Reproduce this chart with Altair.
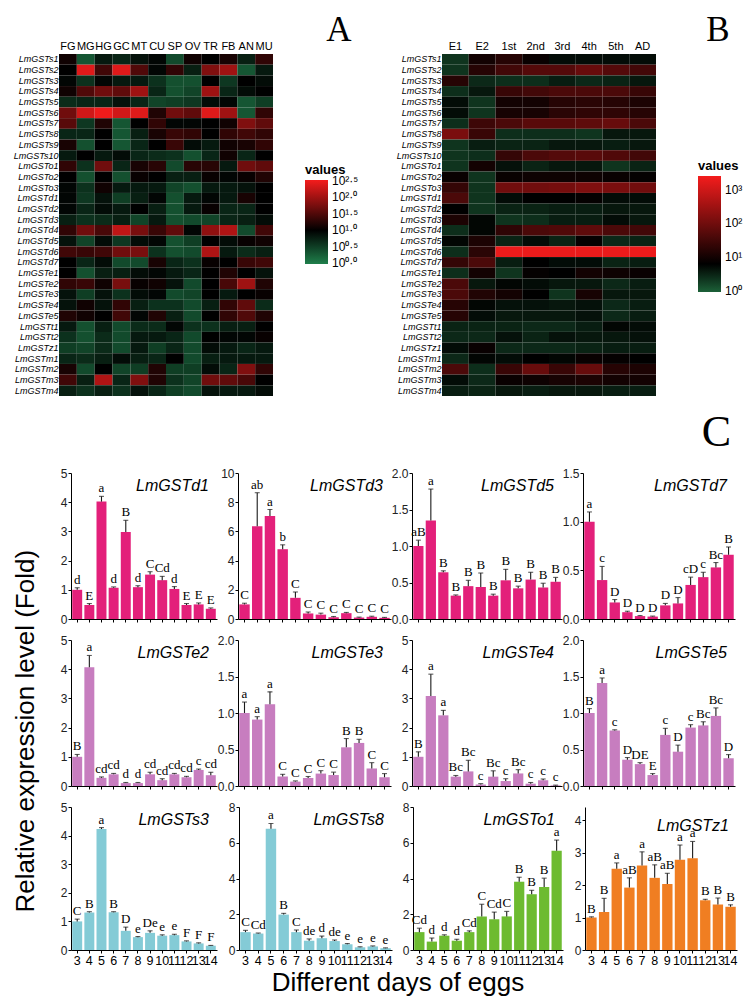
import altair as alt
import pandas as pd

FONT = "Liberation Sans"
SERIF = "Liberation Serif"

genes = ["LmGSTs1", "LmGSTs2", "LmGSTs3", "LmGSTs4", "LmGSTs5", "LmGSTs6", "LmGSTs7", "LmGSTs8",
         "LmGSTs9", "LmGSTs10", "LmGSTo1", "LmGSTo2", "LmGSTo3", "LmGSTd1", "LmGSTd2", "LmGSTd3",
         "LmGSTd4", "LmGSTd5", "LmGSTd6", "LmGSTd7", "LmGSTe1", "LmGSTe2", "LmGSTe3", "LmGSTe4",
         "LmGSTe5", "LmGSTt1", "LmGSTt2", "LmGSTz1", "LmGSTm1", "LmGSTm2", "LmGSTm3", "LmGSTm4"]
tissues = ["FG", "MG", "HG", "GC", "MT", "CU", "SP", "OV", "TR", "FB", "AN", "MU"]
stages = ["E1", "E2", "1st", "2nd", "3rd", "4th", "5th", "AD"]

# ---- Heatmap A (log10 of expression), rows per gene family ----
A_s = [
    [1.1, 0.3, 0.8, 0.7, 0.85, 0.95, 0.4, 1.1, 1.0, 1.15, 0.75, 1.3],
    [1.0, 2.4, 1.4, 2.4, 1.5, 0.95, 1.3, 0.75, 1.8, 2.0, 0.3, 0.8],
    [0.95, 0.6, 0.95, 0.8, 0.8, 0.6, 0.35, 0.35, 1.0, 0.55, 1.0, 0.9],
    [1.1, 1.5, 1.7, 1.6, 2.0, 0.7, 0.35, 0.45, 2.0, 0.7, 0.9, 1.0],
    [0.65, 0.7, 0.7, 0.85, 0.7, 0.45, 0.5, 0.55, 0.9, 0.95, 0.3, 0.5],
    [1.7, 2.3, 2.5, 2.3, 2.4, 1.2, 1.7, 1.6, 2.4, 2.0, 0.3, 1.3],
    [1.55, 0.55, 1.2, 0.3, 1.0, 1.3, 0.95, 0.95, 1.0, 1.1, 1.8, 1.6],
    [0.7, 0.7, 1.0, 0.3, 0.75, 1.15, 1.35, 1.3, 1.0, 1.3, 1.4, 1.3],
    [1.15, 0.35, 1.0, 0.3, 0.7, 1.0, 1.35, 0.9, 0.8, 1.1, 1.15, 1.3],
    [0.8, 1.0, 0.8, 0.9, 0.7, 0.65, 0.6, 0.35, 0.7, 1.1, 0.7, 1.0],
]
A_o = [
    [1.3, 0.6, 1.7, 0.7, 1.15, 1.25, 0.4, 1.25, 1.25, 0.8, 1.7, 1.6],
    [1.0, 0.35, 1.0, 0.35, 1.05, 1.0, 0.75, 0.75, 1.05, 0.95, 1.05, 1.2],
    [0.95, 0.6, 1.1, 0.8, 0.8, 0.8, 0.45, 0.35, 0.8, 0.8, 0.85, 1.0],
]
A_d = [
    [0.95, 0.55, 0.85, 0.5, 0.75, 0.95, 0.35, 0.8, 0.95, 0.8, 1.15, 1.0],
    [0.95, 0.7, 0.9, 0.8, 1.0, 0.75, 0.35, 0.8, 1.05, 0.7, 0.7, 1.0],
    [0.75, 0.6, 0.65, 0.75, 0.45, 0.8, 0.35, 0.4, 0.45, 0.7, 0.75, 0.9],
    [1.3, 1.7, 1.45, 2.2, 1.75, 1.35, 1.6, 0.95, 1.9, 2.1, 0.4, 1.4],
    [0.85, 0.45, 0.9, 0.55, 0.9, 0.95, 0.35, 0.5, 1.0, 0.9, 1.05, 1.1],
    [1.4, 1.35, 1.4, 1.7, 1.75, 0.6, 0.35, 0.4, 2.1, 0.8, 0.65, 0.75],
    [1.0, 0.7, 0.9, 0.4, 0.4, 1.15, 0.7, 0.6, 1.05, 1.0, 1.35, 1.4],
]
A_e = [
    [1.0, 0.35, 0.75, 0.75, 0.9, 0.95, 0.8, 0.7, 1.0, 1.2, 1.0, 0.85],
    [1.3, 1.35, 1.1, 1.75, 1.05, 1.1, 0.85, 0.4, 1.0, 1.45, 2.0, 1.2],
    [0.85, 0.5, 0.85, 0.6, 0.9, 0.95, 0.4, 0.45, 1.0, 0.8, 1.0, 1.05],
    [0.85, 1.1, 0.85, 1.3, 0.75, 0.6, 0.6, 0.4, 0.75, 1.3, 1.6, 0.65],
    [1.2, 1.1, 1.0, 1.4, 0.95, 1.2, 0.75, 0.4, 1.0, 1.3, 1.5, 1.2],
]
A_t = [
    [0.8, 0.35, 0.75, 0.4, 0.65, 0.65, 0.95, 0.6, 0.6, 0.75, 0.75, 1.0],
    [0.6, 0.35, 0.65, 0.4, 0.8, 0.8, 0.7, 0.4, 1.0, 0.95, 0.95, 1.05],
]
A_z = [
    [0.5, 0.45, 0.65, 0.4, 0.8, 0.5, 0.7, 0.4, 0.9, 0.8, 0.7, 0.8],
]
A_m = [
    [0.7, 0.65, 0.75, 0.9, 0.75, 0.7, 1.0, 0.4, 0.75, 0.8, 0.8, 0.8],
    [1.15, 0.4, 1.0, 0.45, 0.5, 1.2, 0.5, 0.5, 0.9, 0.7, 1.8, 1.3],
    [1.4, 0.75, 2.1, 0.7, 1.8, 1.2, 0.6, 0.45, 1.7, 1.6, 1.45, 1.0],
    [0.75, 0.6, 0.75, 0.6, 0.85, 0.7, 0.5, 0.4, 0.85, 0.8, 0.8, 0.9],
]

# ---- Heatmap B (log10 of expression) ----
B_s = [
    [0.35, 1.0, 1.2, 0.9, 0.7, 0.7, 0.7, 0.7],
    [0.35, 1.2, 1.5, 1.7, 1.7, 1.9, 1.7, 1.5],
    [1.2, 0.45, 0.4, 0.4, 0.55, 0.45, 0.5, 0.6],
    [0.4, 0.6, 1.4, 1.5, 1.6, 1.6, 1.6, 1.4],
    [0.7, 0.35, 1.0, 1.0, 1.2, 1.25, 1.2, 1.1],
    [0.7, 0.35, 1.05, 1.05, 1.25, 1.3, 1.3, 1.2],
    [0.4, 1.45, 1.6, 1.75, 1.75, 1.8, 1.9, 1.6],
    [2.1, 1.4, 0.4, 0.4, 0.4, 0.35, 0.6, 0.6],
    [0.35, 0.55, 0.5, 0.5, 0.6, 0.6, 0.55, 0.6],
    [0.35, 0.4, 1.35, 1.6, 1.7, 1.75, 1.65, 1.5],
]
B_o = [
    [0.35, 1.0, 0.65, 0.5, 0.6, 0.6, 0.35, 0.5],
    [0.9, 0.35, 0.9, 0.95, 0.95, 0.95, 0.9, 0.85],
    [1.35, 0.35, 2.0, 2.0, 2.05, 2.15, 2.1, 2.0],
]
B_d = [
    [1.6, 0.35, 0.7, 0.8, 0.8, 0.85, 0.7, 0.7],
    [0.8, 0.35, 0.5, 0.5, 0.55, 0.55, 0.6, 0.6],
    [1.1, 0.75, 0.35, 0.4, 0.55, 0.55, 0.7, 0.6],
    [0.4, 0.75, 1.3, 1.6, 1.65, 1.8, 1.6, 1.5],
    [0.75, 1.1, 0.5, 0.7, 0.5, 0.85, 0.45, 0.5],
    [0.4, 1.25, 3.3, 3.3, 3.3, 3.3, 3.3, 3.3],
    [1.35, 1.6, 0.55, 0.8, 0.7, 0.7, 0.5, 0.55],
]
B_e = [
    [0.4, 1.0, 0.35, 0.85, 0.8, 1.0, 0.95, 0.9],
    [1.6, 0.6, 0.75, 0.7, 0.6, 0.6, 0.45, 0.55],
    [1.6, 1.15, 1.0, 0.8, 0.35, 1.05, 0.6, 0.6],
    [1.2, 0.75, 0.65, 0.65, 0.6, 0.65, 0.45, 0.55],
    [1.2, 0.7, 0.6, 0.6, 0.6, 0.65, 0.45, 0.55],
]
B_t = [
    [0.5, 0.5, 0.5, 0.45, 0.45, 0.55, 0.75, 0.7],
    [0.45, 0.45, 0.65, 0.5, 0.65, 0.6, 0.6, 0.65],
]
B_z = [
    [0.7, 0.9, 0.45, 0.45, 0.45, 0.5, 0.55, 0.55],
]
B_m = [
    [0.45, 0.75, 0.7, 0.8, 0.75, 0.9, 0.85, 0.8],
    [1.6, 0.4, 1.4, 1.9, 1.4, 1.9, 1.2, 1.1],
    [0.7, 0.45, 0.9, 0.95, 1.05, 1.1, 1.0, 1.0],
    [0.55, 0.5, 0.6, 0.55, 0.6, 0.6, 0.55, 0.55],
]

# ---- Bar charts (relative expression: mean, SE, significance letters) ----
days = ["3", "4", "5", "6", "7", "8", "9", "10", "11", "12", "13", "14"]

d1_mean = [1.0, 0.48, 4.02, 1.07, 2.98, 1.09, 1.52, 1.33, 1.03, 0.48, 0.50, 0.35]
d1_se = [0.07, 0.05, 0.18, 0.03, 0.40, 0.05, 0.10, 0.13, 0.08, 0.05, 0.05, 0.03]
d1_sig = ["d", "E", "a", "d", "B", "d", "C", "Cd", "d", "E", "E", "E"]

d3_mean = [1.0, 6.35, 7.05, 4.78, 1.45, 0.38, 0.30, 0.12, 0.40, 0.10, 0.15, 0.08]
d3_se = [0.08, 2.3, 0.45, 0.30, 0.40, 0.10, 0.10, 0.05, 0.05, 0.03, 0.04, 0.03]
d3_sig = ["C", "ab", "a", "b", "C", "C", "C", "C", "C", "C", "C", "C"]

d5_mean = [1.0, 1.35, 0.64, 0.32, 0.45, 0.44, 0.32, 0.53, 0.42, 0.54, 0.43, 0.51]
d5_se = [0.08, 0.43, 0.02, 0.01, 0.08, 0.19, 0.02, 0.15, 0.03, 0.10, 0.06, 0.06]
d5_sig = ["aB", "a", "B", "B", "B", "B", "B", "B", "B", "B", "B", "B"]

d7_mean = [1.0, 0.40, 0.17, 0.07, 0.03, 0.025, 0.14, 0.16, 0.35, 0.43, 0.53, 0.66]
d7_se = [0.10, 0.14, 0.03, 0.01, 0.005, 0.005, 0.02, 0.06, 0.08, 0.05, 0.05, 0.08]
d7_sig = ["a", "c", "D", "D", "D", "D", "D", "D", "cD", "c", "Bc", "B"]

e2_mean = [1.0, 4.07, 0.28, 0.40, 0.10, 0.10, 0.40, 0.20, 0.40, 0.30, 0.55, 0.37]
e2_se = [0.08, 0.40, 0.03, 0.03, 0.02, 0.02, 0.07, 0.05, 0.03, 0.03, 0.03, 0.10]
e2_sig = ["B", "a", "cd", "cd", "d", "d", "cd", "cd", "cd", "cd", "c", "cd"]

e3_mean = [1.0, 0.91, 1.12, 0.13, 0.06, 0.11, 0.17, 0.15, 0.53, 0.59, 0.24, 0.12]
e3_se = [0.15, 0.04, 0.17, 0.03, 0.01, 0.02, 0.04, 0.04, 0.12, 0.05, 0.08, 0.05]
e3_sig = ["a", "a", "a", "C", "C", "C", "C", "C", "B", "B", "C", "C"]

e4_mean = [1.0, 3.08, 2.42, 0.32, 0.50, 0.05, 0.32, 0.17, 0.43, 0.08, 0.20, 0.02]
e4_se = [0.17, 0.75, 0.17, 0.04, 0.38, 0.03, 0.20, 0.08, 0.13, 0.04, 0.04, 0.01]
e4_sig = ["B", "a", "a", "Bc", "Bc", "c", "Bc", "c", "Bc", "c", "c", "c"]

e5_mean = [1.0, 1.41, 0.76, 0.36, 0.30, 0.15, 0.70, 0.47, 0.80, 0.83, 0.96, 0.38]
e5_se = [0.06, 0.07, 0.01, 0.03, 0.02, 0.02, 0.09, 0.09, 0.04, 0.05, 0.11, 0.05]
e5_sig = ["B", "a", "c", "D", "DE", "E", "c", "D", "c", "Bc", "Bc", "D"]

s3_mean = [1.0, 1.31, 4.23, 1.32, 0.67, 0.45, 0.60, 0.50, 0.52, 0.30, 0.23, 0.15]
s3_se = [0.08, 0.03, 0.05, 0.02, 0.13, 0.02, 0.07, 0.03, 0.03, 0.02, 0.02, 0.01]
s3_sig = ["C", "B", "a", "B", "D", "e", "De", "e", "e", "F", "F", "F"]

s8_mean = [1.0, 0.92, 6.78, 1.98, 1.0, 0.52, 0.66, 0.50, 0.32, 0.15, 0.20, 0.10]
s8_se = [0.10, 0.03, 0.30, 0.07, 0.12, 0.10, 0.12, 0.06, 0.04, 0.03, 0.03, 0.02]
s8_sig = ["C", "Cd", "a", "B", "C", "de", "d", "de", "e", "e", "e", "e"]

o1_mean = [1.0, 0.47, 0.80, 0.52, 1.0, 1.88, 1.72, 1.88, 3.82, 3.12, 3.52, 5.55]
o1_se = [0.22, 0.20, 0.05, 0.08, 0.07, 0.68, 0.40, 0.28, 0.25, 0.22, 0.50, 0.60]
o1_sig = ["Cd", "d", "d", "d", "Cd", "C", "Cd", "C", "B", "B", "B", "a"]

z1_mean = [1.0, 1.17, 2.50, 1.92, 2.60, 2.22, 2.03, 2.78, 2.82, 1.53, 1.40, 1.33]
z1_se = [0.02, 0.42, 0.18, 0.30, 0.42, 0.40, 0.33, 0.45, 0.52, 0.03, 0.20, 0.06]
z1_sig = ["B", "B", "a", "aB", "a", "aB", "aB", "a", "a", "B", "B", "B"]

PINK = "#e3207a"
ORCHID = "#c77dbf"
LBLUE = "#84cbd6"
LGREEN = "#6dbb30"
ORANGE = "#f07e22"


def heat_df(families, cols):
    rows = [r for fam in families for r in fam]
    recs = []
    for g, r in zip(genes, rows):
        for c, v in zip(cols, r):
            recs.append({"gene": g, "col": c, "v": v})
    return pd.DataFrame(recs)


def sup_expr(pairs):
    parts = [f"datum.value == {k} ? '{v}'" for k, v in pairs]
    return " : ".join(parts) + " : ''"


def heatmap(df, cols, domain, rng, legend_vals, label_pairs, glen, lx, ly, letter, letter_x):
    cscale = alt.Scale(domain=domain, range=rng, interpolate="rgb")
    return alt.Chart(df).mark_rect().encode(
        x=alt.X("col:N", sort=cols, scale=alt.Scale(paddingInner=0, paddingOuter=0),
                axis=alt.Axis(orient="top", labelAngle=0, ticks=False, domain=False,
                              labelFontSize=11, labelPadding=3, labelFont=FONT, labelColor="#000",
                              title=letter, titleX=letter_x, titleY=-14, titleAlign="right",
                              titleBaseline="alphabetic", titleFont=SERIF, titleFontSize=35,
                              titleFontWeight="normal", titleColor="#000")),
        y=alt.Y("gene:N", sort=genes, scale=alt.Scale(paddingInner=0, paddingOuter=0),
                axis=alt.Axis(title=None, ticks=False, domain=False, labelFontSize=9,
                              labelFontStyle="italic", labelPadding=1, labelFont=FONT,
                              labelColor="#000")),
        color=alt.Color("v:Q", scale=cscale,
                        legend=alt.Legend(type="gradient", title="values", orient="none",
                                          legendX=lx, legendY=ly,
                                          direction="vertical", values=legend_vals,
                                          labelExpr=sup_expr(label_pairs), labelOverlap=False,
                                          labelBaseline="middle",
                                          gradientLength=glen, gradientThickness=23,
                                          gradientStrokeWidth=0,
                                          titleFont=FONT, titleFontSize=13, titleFontWeight="bold",
                                          titleColor="#000", titlePadding=3,
                                          labelFont=FONT, labelFontSize=12, labelColor="#000",
                                          labelOffset=4)),
    ).properties(width=214, height=342)


dfA = heat_df([A_s, A_o, A_d, A_e, A_t, A_z, A_m], tissues)
dfB = heat_df([B_s, B_o, B_d, B_e, B_t, B_z, B_m], stages)

heatA = heatmap(dfA, tissues, [-0.03, 1.0, 2.53], ["#1f7f4b", "#000000", "#f41c1c"],
                [0, 0.5, 1, 1.5, 2, 2.5],
                [(0, "10⁰·⁰"), (0.5, "10⁰·⁵"), (1, "10¹·⁰"), (1.5, "10¹·⁵"), (2, "10²·⁰"), (2.5, "10²·⁵")],
                84, 246, 110, "A", 292)
heatB = heatmap(dfB, stages, [-0.03, 0.8, 3.4], ["#1c6038", "#000000", "#f41c1c"],
                [0, 1, 2, 3],
                [(0, "10⁰"), (1, "10¹"), (2, "10²"), (3, "10³")],
                116, 256, 106, "B", 287)

top = alt.hconcat(heatA, heatB, spacing=37).resolve_scale(color="independent")


def spacer(height):
    return alt.Chart(pd.DataFrame({"t": [""]})).mark_text().encode(
        text="t:N").properties(width=1, height=height)


def panel(gene, mean, se, sig, color, ymax, ticks, fmt, width, height, xlabels, ext=21):
    df = pd.DataFrame({"day": days, "mean": mean, "se": se, "sig": sig})
    base = alt.Chart(df).transform_calculate(top="datum.mean + datum.se")
    x = alt.X("day:O", sort=days, scale=alt.Scale(paddingInner=0.18, paddingOuter=0.1),
              axis=alt.Axis(title=None, labels=xlabels, labelAngle=0, labelFontSize=12.5,
                            labelPadding=1, tickSize=3, domainColor="#000", tickColor="#000",
                            labelColor="#000", labelFont=FONT))
    yscale = alt.Scale(domain=[0, ymax], nice=False, zero=True)
    yaxis = alt.Axis(title=None, values=ticks, format=fmt, labelFontSize=12, tickSize=3,
                     labelPadding=1, minExtent=ext, grid=False, domainColor="#000",
                     tickColor="#000", labelColor="#222", labelFont=FONT)
    bars = base.mark_bar(color=color).encode(x=x, y=alt.Y("mean:Q", scale=yscale, axis=yaxis))
    err = base.mark_rule(color="#1a1a1a", strokeWidth=1.1).encode(
        x=x, y=alt.Y("mean:Q", scale=yscale, axis=yaxis), y2="top:Q")
    cap = base.mark_tick(color="#1a1a1a", thickness=1.1, size=5).encode(
        x=x, y=alt.Y("top:Q", scale=yscale, axis=yaxis))
    lab = base.mark_text(font=SERIF, fontSize=13, baseline="bottom", dy=-1, color="#000").encode(
        x=x, y=alt.Y("top:Q", scale=yscale, axis=yaxis), text="sig:N")
    return alt.layer(bars, err, cap, lab).properties(
        width=width, height=height,
        title=alt.TitleParams(gene, anchor="end", frame="group", fontSize=16, fontStyle="italic",
                              fontWeight="normal", font=FONT, color="#000", dy=27, dx=-8,
                              offset=0))


W = [146, 153, 150, 152]
H = [146, 146, 143]
t5 = [0, 1, 2, 3, 4, 5]
t2 = [0, 0.5, 1.0, 1.5, 2.0]

row1 = alt.hconcat(
    spacer(H[0]),
    panel("LmGSTd1", d1_mean, d1_se, d1_sig, PINK, 5, t5, "d", W[0], H[0], False, ext=10),
    panel("LmGSTd3", d3_mean, d3_se, d3_sig, PINK, 10, [0, 2, 4, 6, 8, 10], "d", W[1], H[0], False),
    panel("LmGSTd5", d5_mean, d5_se, d5_sig, PINK, 2, t2, ".1f", W[2], H[0], False),
    panel("LmGSTd7", d7_mean, d7_se, d7_sig, PINK, 1.5, [0, 0.5, 1.0, 1.5], ".1f", W[3], H[0], False),
    spacing=0)
row2 = alt.hconcat(
    spacer(H[1]),
    panel("LmGSTe2", e2_mean, e2_se, e2_sig, ORCHID, 5, t5, "d", W[0], H[1], False, ext=10),
    panel("LmGSTe3", e3_mean, e3_se, e3_sig, ORCHID, 2, t2, ".1f", W[1], H[1], False),
    panel("LmGSTe4", e4_mean, e4_se, e4_sig, ORCHID, 5, t5, "d", W[2], H[1], False),
    panel("LmGSTe5", e5_mean, e5_se, e5_sig, ORCHID, 2, t2, ".1f", W[3], H[1], False),
    spacing=0)
row3 = alt.hconcat(
    spacer(H[2]),
    panel("LmGSTs3", s3_mean, s3_se, s3_sig, LBLUE, 5, t5, "d", W[0], H[2], True, ext=10),
    panel("LmGSTs8", s8_mean, s8_se, s8_sig, LBLUE, 8, [0, 2, 4, 6, 8], "d", W[1], H[2], True),
    panel("LmGSTo1", o1_mean, o1_se, o1_sig, LGREEN, 8, [0, 2, 4, 6, 8], "d", W[2], H[2], True),
    panel("LmGSTz1", z1_mean, z1_se, z1_sig, ORANGE, 4.4, [0, 1, 2, 3, 4], "d", W[3], H[2], True),
    spacing=0).properties(title=alt.TitleParams("Different days of eggs", orient="bottom",
                                                anchor="middle", font=FONT, fontSize=26,
                                                fontWeight="normal", color="#000", offset=3))

grid = alt.vconcat(row1, row2, row3, spacing=9).properties(
    title=alt.TitleParams("Relative expression level (Fold)", orient="left", anchor="middle",
                          font=FONT, fontSize=26, fontWeight="normal", color="#000", offset=20))

sectionC = alt.vconcat(grid).properties(
    title=alt.TitleParams("C", anchor="end", font=SERIF, fontSize=44, fontWeight="normal",
                          color="#000", offset=12, dx=-6))

chart = alt.vconcat(top, sectionC, spacing=15).properties(
    padding={"left": 4, "top": 4, "right": 0, "bottom": 0}, background="white"
).configure_view(stroke=None)

chart.save("out.html", embed_options={"renderer": "svg", "actions": False})
